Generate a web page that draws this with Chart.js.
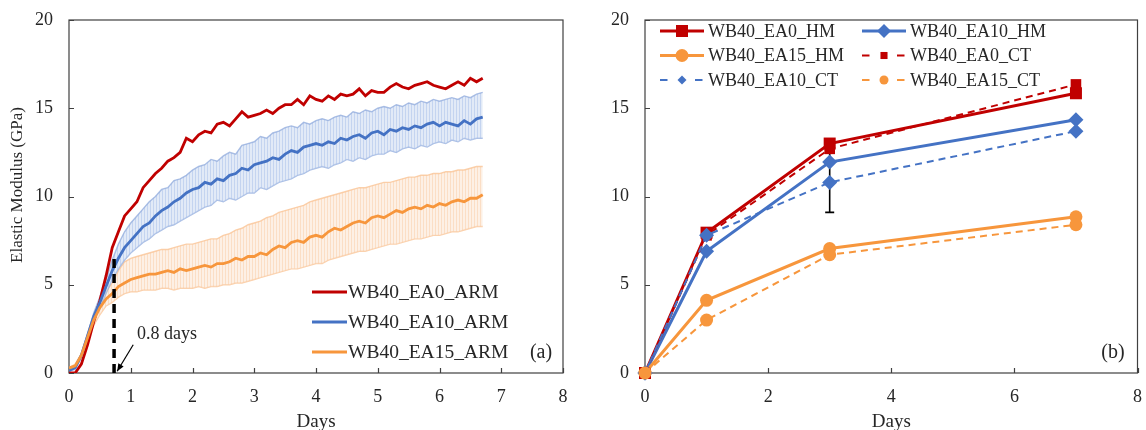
<!DOCTYPE html>
<html>
<head>
<meta charset="utf-8">
<title>Elastic modulus vs. days</title>
<script src="https://cdn.jsdelivr.net/npm/chart.js@4.4.1/dist/chart.umd.min.js"></script>
<style>
  html, body { margin: 0; padding: 0; background: #fff; }
  #wrap { position: relative; width: 1146px; height: 430px; overflow: hidden; }
  .panel { position: absolute; top: 0; width: 573px; height: 430px; }
  #panelA { left: 0; }
  #panelB { left: 573px; }
</style>
</head>
<body>
<div id="wrap">
  <div class="panel" id="panelA"><canvas id="chartA" width="573" height="430"></canvas></div>
  <div class="panel" id="panelB"><canvas id="chartB" width="573" height="430"></canvas></div>
</div>
<script>
// ============================================================
// (a) ARM curves, mean +/- band  |  (b) HM vs CT spot values
// ============================================================

/* ── Data: panel (a) ────────────────────────────────────────*/
const armDays = [
  0.0, 0.1, 0.2, 0.3, 0.4, 0.5, 0.6, 0.7, 0.8, 0.9,
  1.0, 1.1, 1.2, 1.3, 1.4, 1.5, 1.6, 1.7, 1.8, 1.9,
  2.0, 2.1, 2.2, 2.3, 2.4, 2.5, 2.6, 2.7, 2.8, 2.9,
  3.0, 3.1, 3.2, 3.3, 3.4, 3.5, 3.6, 3.7, 3.8, 3.9,
  4.0, 4.1, 4.2, 4.3, 4.4, 4.5, 4.6, 4.7, 4.8, 4.9,
  5.0, 5.1, 5.2, 5.3, 5.4, 5.5, 5.6, 5.7, 5.8, 5.9,
  6.0, 6.1, 6.2, 6.3, 6.4, 6.5, 6.6, 6.7
];
const armEA0 = [
  0.0, 0.0, 0.5, 1.6, 2.9, 4.1, 5.5, 7.1, 8.0, 8.9,
  9.3, 9.7, 10.5, 10.9, 11.3, 11.6, 12.0, 12.2, 12.5, 13.3,
  13.1, 13.5, 13.7, 13.6, 14.1, 14.2, 14.0, 14.4, 14.8, 14.5,
  14.6, 14.7, 14.9, 14.7, 15.0, 15.2, 15.2, 15.5, 15.2, 15.7,
  15.5, 15.4, 15.7, 15.5, 15.8, 15.7, 15.8, 16.1, 15.7, 16.0,
  15.9, 15.9, 16.2, 16.4, 16.2, 16.1, 16.3, 16.4, 16.5, 16.3,
  16.2, 16.1, 16.3, 16.5, 16.3, 16.7, 16.5, 16.7
];
const armEA10 = [
  0.15, 0.3, 1.0, 2.1, 3.2, 4.0, 4.9, 5.8, 6.5, 7.1,
  7.5, 7.9, 8.3, 8.5, 8.9, 9.2, 9.4, 9.7, 9.9, 10.2,
  10.4, 10.5, 10.8, 10.7, 11.0, 10.9, 11.2, 11.3, 11.6, 11.5,
  11.8, 11.9, 12.0, 12.2, 12.1, 12.4, 12.6, 12.5, 12.8, 12.9,
  13.0, 12.9, 13.1, 13.0, 13.3, 13.2, 13.4, 13.5, 13.3, 13.6,
  13.7, 13.5, 13.8, 13.7, 13.9, 13.8, 14.0, 13.9, 14.1, 14.2,
  14.0, 14.2, 14.1, 14.0, 14.3, 14.1, 14.4, 14.5
];
const armEA10Hi = [
  0.2, 0.4, 1.1, 2.2, 3.4, 4.3, 5.3, 6.4, 7.3, 8.0,
  8.5, 8.9, 9.3, 9.7, 10.0, 10.4, 10.5, 10.9, 11.0, 11.2,
  11.5, 11.7, 11.8, 12.1, 12.0, 12.3, 12.5, 12.4, 12.9, 13.0,
  13.1, 13.4, 13.3, 13.6, 13.7, 13.9, 14.0, 13.9, 14.2, 14.1,
  14.3, 14.4, 14.3, 14.5, 14.6, 14.5, 14.8, 14.7, 14.9, 14.8,
  15.0, 15.1, 15.0, 15.2, 15.1, 15.3, 15.2, 15.4, 15.3, 15.5,
  15.4, 15.5, 15.6, 15.5, 15.7, 15.6, 15.8, 15.9
];
const armEA10Lo = [
  0.1, 0.2, 0.9, 2.0, 3.0, 3.7, 4.5, 5.3, 5.9, 6.4,
  6.8, 7.1, 7.4, 7.6, 7.9, 8.1, 8.3, 8.4, 8.6, 8.8,
  9.0, 9.2, 9.4, 9.5, 9.8, 9.7, 9.9, 9.8, 10.0, 10.2,
  10.2, 10.5, 10.4, 10.6, 10.8, 10.9, 11.0, 11.2, 11.3, 11.5,
  11.6, 11.7, 11.6, 11.8, 11.9, 12.1, 12.0, 12.2, 12.1, 12.3,
  12.4, 12.4, 12.6, 12.5, 12.7, 12.8, 12.7, 12.9, 12.8, 13.0,
  13.1, 13.0, 13.2, 13.1, 13.3, 13.2, 13.3, 13.3
];
const armEA15 = [
  0.28, 0.4, 1.0, 2.0, 3.0, 3.7, 4.2, 4.5, 4.9, 5.1,
  5.3, 5.4, 5.5, 5.6, 5.6, 5.7, 5.8, 5.7, 5.9, 5.8,
  5.9, 6.0, 6.1, 6.0, 6.2, 6.2, 6.3, 6.5, 6.4, 6.6,
  6.6, 6.8, 6.7, 7.0, 7.2, 7.1, 7.4, 7.5, 7.4, 7.7,
  7.8, 7.7, 8.0, 8.2, 8.1, 8.3, 8.5, 8.6, 8.5, 8.8,
  8.9, 8.8, 9.0, 9.2, 9.1, 9.3, 9.4, 9.3, 9.5, 9.4,
  9.6, 9.5, 9.7, 9.8, 9.7, 9.9, 9.9, 10.1
];
const armEA15Hi = [
  0.3, 0.5, 1.1, 2.2, 3.3, 4.1, 4.6, 5.1, 5.8, 6.3,
  6.5, 6.6, 6.7, 6.8, 6.9, 7.0, 7.0, 7.1, 7.2, 7.3,
  7.3, 7.4, 7.5, 7.6, 7.6, 7.8, 7.9, 8.1, 8.2, 8.4,
  8.5, 8.6, 8.8, 8.9, 9.1, 9.2, 9.3, 9.4, 9.5, 9.7,
  9.8, 9.9, 10.0, 10.1, 10.2, 10.3, 10.4, 10.5, 10.5, 10.6,
  10.7, 10.8, 10.8, 10.9, 11.0, 11.1, 11.1, 11.2, 11.2, 11.3,
  11.3, 11.4, 11.4, 11.5, 11.5, 11.6, 11.7, 11.7
];
const armEA15Lo = [
  0.25, 0.35, 0.9, 1.8, 2.7, 3.3, 3.8, 4.0, 4.3, 4.5,
  4.6, 4.6, 4.7, 4.7, 4.7, 4.8, 4.8, 4.7, 4.8, 4.8,
  4.8, 4.9, 4.8, 4.9, 4.9, 5.0, 5.0, 5.1, 5.1, 5.2,
  5.3, 5.4, 5.5, 5.6, 5.7, 5.8, 5.9, 5.9, 6.0, 6.1,
  6.2, 6.2, 6.4, 6.5, 6.6, 6.7, 6.8, 6.9, 6.9, 7.0,
  7.1, 7.2, 7.3, 7.3, 7.4, 7.5, 7.6, 7.6, 7.7, 7.8,
  7.8, 7.9, 8.0, 8.0, 8.1, 8.2, 8.3, 8.3
];

/* ── Data: panel (b) ────────────────────────────────────────*/
const hmDays  = [0, 1, 3, 7];
const hmEA0   = [0, 7.95, 13.0, 15.85];
const hmEA10  = [0, 6.9, 11.95, 14.35];
const hmEA15  = [0, 4.12, 7.05, 8.85];
const ctEA0   = [0, 7.8, 12.7, 16.35];
const ctEA10  = [0, 7.8, 10.8, 13.7];
const ctEA15  = [0, 3.0, 6.7, 8.4];
const ctEA10Err = [0, 0, 1.7, 0];

/* ── Ticks ──────────────────────────────────────────────────*/
const yTickVals  = [0, 5, 10, 15, 20];
const xTickValsA = [0, 1, 2, 3, 4, 5, 6, 7, 8];
const xTickValsB = [0, 2, 4, 6, 8];

/* ── Annotation in (a) ──────────────────────────────────────*/
const markDay = 0.73, markTop = 6.7;
const noteText = "0.8 days";
const notePos = { x: 1.1, y: 2.2 };
const arrowFrom = { x: 1.04, y: 1.6 }, arrowTo = { x: 0.78, y: 0.1 };

/* ── Style ──────────────────────────────────────────────────*/
const RED = "#C00000", BLUE = "#4472C4", ORANGE = "#F7963C";
const AXIS = "#404040", TEXT = "#262626";
const SERIF = "'Liberation Serif', 'Times New Roman', serif";

Chart.defaults.font.family = SERIF;
Chart.defaults.color = TEXT;

function hatch(canvasId, fill, stroke) {
  const c = document.createElement("canvas");
  c.width = 3; c.height = 3;
  const g = c.getContext("2d");
  g.fillStyle = fill; g.fillRect(0, 0, 3, 3);
  g.fillStyle = stroke; g.fillRect(0, 0, 1, 3);
  return document.getElementById(canvasId).getContext("2d").createPattern(c, "repeat");
}

function ticksFrom(list) {
  return s => { s.ticks = list.map(v => ({ value: v })); };
}

function drawMarker(ctx, style, x, y, r, color) {
  ctx.fillStyle = color;
  ctx.beginPath();
  if (style === "rect") {
    const s = r * Math.SQRT1_2;
    ctx.rect(x - s, y - s, 2 * s, 2 * s);
  } else if (style === "rectRot") {
    ctx.moveTo(x - r, y); ctx.lineTo(x, y - r); ctx.lineTo(x + r, y); ctx.lineTo(x, y + r);
    ctx.closePath();
  } else {
    ctx.arc(x, y, r, 0, Math.PI * 2);
  }
  ctx.fill();
}

// frame box + inward tick marks (drawn under the data)
const frameTicks = {
  id: "frameTicks",
  beforeDatasetsDraw(chart) {
    const { ctx, chartArea: a, scales: { x, y } } = chart;
    ctx.save();
    ctx.strokeStyle = AXIS;
    ctx.lineWidth = 1.2;
    ctx.strokeRect(a.left, a.top, a.right - a.left, a.bottom - a.top);
    ctx.beginPath();
    x.ticks.forEach(t => {
      const px = Math.round(x.getPixelForValue(t.value)) + 0.5;
      ctx.moveTo(px, a.bottom); ctx.lineTo(px, a.bottom - 5);
    });
    y.ticks.forEach(t => {
      const py = Math.round(y.getPixelForValue(t.value)) + 0.5;
      ctx.moveTo(a.left, py); ctx.lineTo(a.left + 5, py);
    });
    ctx.stroke();
    ctx.restore();
  }
};

function commonScales(xTicks, yWidth) {
  return {
    x: {
      type: "linear", min: 0, max: 8,
      afterBuildTicks: ticksFrom(xTicks),
      afterFit: s => { s.height = 57; s.paddingLeft = 0; s.paddingRight = 0; },
      grid: { display: false, drawTicks: false },
      border: { display: false },
      ticks: { padding: 13, font: { size: 18 }, color: TEXT },
      title: { display: true, text: "Days", padding: 0, color: TEXT, font: { size: 19, lineHeight: 0.8 } }
    },
    y: {
      type: "linear", min: 0, max: 20,
      afterBuildTicks: ticksFrom(yTickVals),
      afterFit: s => { s.width = yWidth; s.paddingTop = 0; s.paddingBottom = 0; },
      grid: { display: false, drawTicks: false },
      border: { display: false },
      ticks: { padding: 16, font: { size: 18 }, color: TEXT }
    }
  };
}

/* ── Panel (a) ──────────────────────────────────────────────*/
function seriesA(vals) { return armDays.map((d, i) => ({ x: d, y: vals[i] })); }

function armLine(label, vals, color, order) {
  return {
    label, data: seriesA(vals), borderColor: color, backgroundColor: color,
    borderWidth: 2.8, pointRadius: 0, tension: 0, fill: false, order
  };
}
function armBand(vals, edge, pattern) {
  return {
    label: "", data: seriesA(vals), borderColor: edge, borderWidth: 1.4,
    backgroundColor: pattern || "transparent", pointRadius: 0, tension: 0,
    fill: pattern ? "+1" : false, order: 10, inLegend: false
  };
}

const blueHatch = hatch("chartA", "rgba(198,214,240,0.5)", "rgba(160,186,230,0.45)");
const orangeHatch = hatch("chartA", "rgba(252,226,204,0.5)", "rgba(249,200,158,0.45)");

const annotateA = {
  id: "annotateA",
  afterDatasetsDraw(chart) {
    const { ctx, scales: { x, y } } = chart;
    ctx.save();
    // dashed marker at 0.8 days
    ctx.strokeStyle = "#000";
    ctx.lineWidth = 3.5;
    ctx.setLineDash([9, 6]);
    ctx.beginPath();
    ctx.moveTo(x.getPixelForValue(markDay), y.getPixelForValue(0));
    ctx.lineTo(x.getPixelForValue(markDay), y.getPixelForValue(markTop));
    ctx.stroke();
    ctx.setLineDash([]);
    // arrow
    const x0 = x.getPixelForValue(arrowFrom.x), y0 = y.getPixelForValue(arrowFrom.y);
    const x1 = x.getPixelForValue(arrowTo.x), y1 = y.getPixelForValue(arrowTo.y);
    ctx.lineWidth = 1.2;
    ctx.beginPath(); ctx.moveTo(x0, y0); ctx.lineTo(x1, y1); ctx.stroke();
    const ang = Math.atan2(y1 - y0, x1 - x0);
    ctx.fillStyle = "#000";
    ctx.beginPath();
    ctx.moveTo(x1, y1);
    ctx.lineTo(x1 - 8 * Math.cos(ang - 0.4), y1 - 8 * Math.sin(ang - 0.4));
    ctx.lineTo(x1 - 8 * Math.cos(ang + 0.4), y1 - 8 * Math.sin(ang + 0.4));
    ctx.closePath(); ctx.fill();
    // note text
    ctx.fillStyle = TEXT;
    ctx.font = `18px ${SERIF}`;
    ctx.textAlign = "left"; ctx.textBaseline = "middle";
    ctx.fillText(noteText, x.getPixelForValue(notePos.x), y.getPixelForValue(notePos.y));

    // y axis title
    ctx.save();
    ctx.translate(18, 185);
    ctx.rotate(-Math.PI / 2);
    ctx.textAlign = "center";
    ctx.font = `17px ${SERIF}`;
    ctx.fillText("Elastic Modulus (GPa)", 0, 0);
    ctx.restore();

    // legend
    const rows = [292, 322, 352];
    ctx.font = `19.5px ${SERIF}`;
    chart.data.datasets.filter(d => d.inLegend !== false).forEach((d, i) => {
      ctx.strokeStyle = d.borderColor; ctx.lineWidth = 3;
      ctx.beginPath(); ctx.moveTo(312, rows[i]); ctx.lineTo(347, rows[i]); ctx.stroke();
      ctx.fillStyle = TEXT;
      ctx.fillText(d.label, 348, rows[i] + 1);
    });
    ctx.font = `20px ${SERIF}`;
    ctx.textAlign = "center";
    ctx.fillText("(a)", 541, 353);
    ctx.restore();
  }
};

new Chart(document.getElementById("chartA"), {
  type: "line",
  data: {
    datasets: [
      armLine("WB40_EA0_ARM", armEA0, RED, 3),
      armLine("WB40_EA10_ARM", armEA10, BLUE, 2),
      armLine("WB40_EA15_ARM", armEA15, ORANGE, 1),
      armBand(armEA10Hi, "rgba(143,170,220,0.75)", blueHatch),
      armBand(armEA10Lo, "rgba(143,170,220,0.75)", null),
      armBand(armEA15Hi, "rgba(250,196,150,0.8)", orangeHatch),
      armBand(armEA15Lo, "rgba(250,196,150,0.8)", null)
    ]
  },
  options: {
    responsive: false, animation: false, events: [],
    layout: { padding: { left: 0, right: 10, top: 20, bottom: 0 } },
    plugins: { legend: { display: false }, tooltip: { enabled: false } },
    scales: commonScales(xTickValsA, 69)
  },
  plugins: [frameTicks, annotateA]
});

/* ── Panel (b) ──────────────────────────────────────────────*/
function seriesB(vals) { return hmDays.map((d, i) => ({ x: d, y: vals[i] })); }

function spotLine(label, vals, color, style, radius, legendRadius, dashed, order) {
  return {
    label, data: seriesB(vals), borderColor: color, backgroundColor: color,
    borderWidth: dashed ? 2 : 3, borderDash: dashed ? [7, 5] : [],
    pointStyle: style, pointRadius: radius, pointBorderWidth: 0,
    pointBackgroundColor: color, tension: 0, fill: false, clip: false,
    legendRadius, dashed, order
  };
}

const errorBars = {
  id: "errorBars",
  beforeDatasetsDraw(chart) {
    const { ctx, scales: { x, y } } = chart;
    ctx.save();
    ctx.strokeStyle = "#000";
    ctx.lineWidth = 1.6;
    ctx.beginPath();
    hmDays.forEach((d, i) => {
      const e = ctEA10Err[i];
      if (!e) return;
      const px = x.getPixelForValue(d);
      const top = y.getPixelForValue(ctEA10[i] + e), bot = y.getPixelForValue(ctEA10[i] - e);
      ctx.moveTo(px, top); ctx.lineTo(px, bot);
      ctx.moveTo(px - 4.5, top); ctx.lineTo(px + 4.5, top);
      ctx.moveTo(px - 4.5, bot); ctx.lineTo(px + 4.5, bot);
    });
    ctx.stroke();
    ctx.restore();
  }
};

const legendB = {
  id: "legendB",
  afterDatasetsDraw(chart) {
    const { ctx } = chart;
    const cols = [87, 289], rows = [31, 55.5, 80];
    ctx.save();
    ctx.font = `18px ${SERIF}`;
    ctx.textAlign = "left"; ctx.textBaseline = "middle";
    chart.data.datasets.forEach((d, i) => {
      const x0 = cols[i % 2], yy = rows[Math.floor(i / 2)], x1 = x0 + 44, xm = (x0 + x1) / 2;
      ctx.strokeStyle = d.borderColor;
      ctx.lineWidth = d.dashed ? 2 : 3;
      ctx.beginPath();
      if (d.dashed) {
        ctx.moveTo(x0, yy); ctx.lineTo(x0 + 7.5, yy);
        ctx.moveTo(x1 - 9, yy); ctx.lineTo(x1 - 1.5, yy);
      } else {
        ctx.moveTo(x0, yy); ctx.lineTo(x1, yy);
      }
      ctx.stroke();
      drawMarker(ctx, d.pointStyle, xm, yy, d.legendRadius, d.borderColor);
      ctx.fillStyle = TEXT;
      ctx.fillText(d.label, x1 + 4, yy + 1);
    });
    ctx.font = `20px ${SERIF}`;
    ctx.textAlign = "center";
    ctx.fillText("(b)", 540, 353);
    ctx.restore();
  }
};

new Chart(document.getElementById("chartB"), {
  type: "line",
  data: {
    datasets: [
      spotLine("WB40_EA0_HM",  hmEA0,  RED,    "rect",    8.5, 8.5, false, 6),
      spotLine("WB40_EA10_HM", hmEA10, BLUE,   "rectRot", 7.5, 7,   false, 5),
      spotLine("WB40_EA15_HM", hmEA15, ORANGE, "circle",  6.5, 6.5, false, 4),
      spotLine("WB40_EA0_CT",  ctEA0,  RED,    "rect",    7.5, 5,   true,  3),
      spotLine("WB40_EA10_CT", ctEA10, BLUE,   "rectRot", 7.5, 4.5, true,  2),
      spotLine("WB40_EA15_CT", ctEA15, ORANGE, "circle",  6.5, 4.5, true,  1)
    ]
  },
  options: {
    responsive: false, animation: false, events: [],
    layout: { padding: { left: 0, right: 6, top: 20, bottom: 0 } },
    plugins: { legend: { display: false }, tooltip: { enabled: false } },
    scales: commonScales(xTickValsB, 72)
  },
  plugins: [frameTicks, errorBars, legendB]
});
</script>
</body>
</html>
